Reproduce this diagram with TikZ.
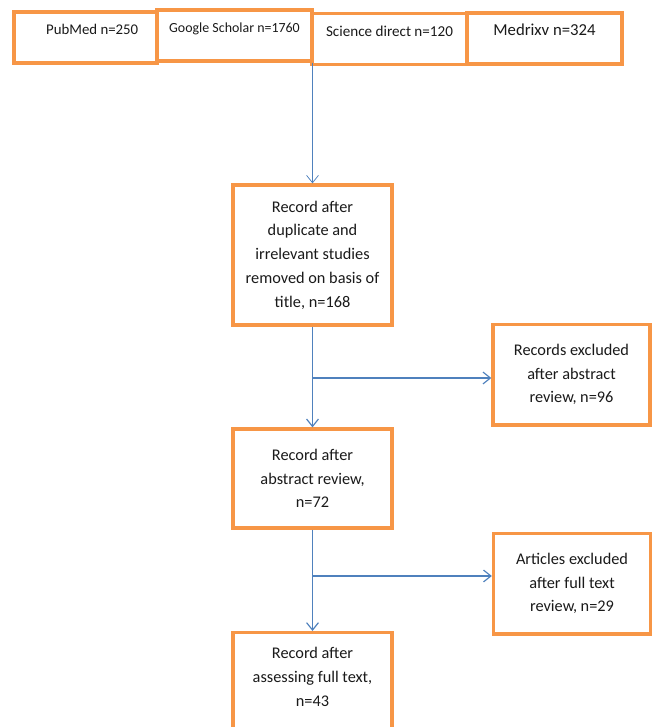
\documentclass[tikz,border=0pt]{standalone}
\usepackage{fontspec}
\setmainfont{Carlito}
\usetikzlibrary{arrows.meta}
\definecolor{ink}{HTML}{1A1A1A}
\definecolor{frame}{HTML}{F79646}
\definecolor{link}{HTML}{4F81BD}
\tikzset{
  every picture/.style={text=ink, font=\fontsize{11}{16}\selectfont},
  source/.style={draw=frame, fill=white, line width=2.2pt, inner sep=0pt, minimum height=34.4pt, text height=15.5pt, text depth=18.9pt},
  stage/.style={draw=frame, fill=white, line width=2.2pt, align=center, inner sep=0pt, minimum width=107.3pt},
  side/.style={stage, minimum width=106pt, minimum height=68pt},
  flow/.style={-{Straight Barb[length=5pt, width=8pt]}, draw=link, line width=0.8pt},
}
\begin{document}
\begin{tikzpicture}[x=0.675pt, y=-0.675pt]
\path[use as bounding box, clip] (0,0) rectangle (652,727);
% databases
\node[source, minimum width=96.5pt, font=\fontsize{10}{12}\selectfont] (pubmed) at (85.5,37.5) {\hspace*{9pt}PubMed n=250};
\node[source, minimum width=104.6pt, font=\fontsize{9.4}{11}\selectfont] (scholar) at (234.5,35.5) {Google Scholar n=1760};
\node[source, minimum width=104.6pt, font=\fontsize{10.2}{12}\selectfont] (science) at (389.5,39) {Science direct n=120};
\node[source, minimum width=104.6pt, font=\fontsize{11.3}{13}\selectfont] (medrixv) at (544.5,38.5) {Medrixv n=324};
% screening
\node[stage, minimum height=94.5pt] (dedup) at (312.5,255) {Record after\\duplicate and\\irrelevant studies\\removed on basis of\\title, n=168};
\node[side] (excl1) at (571.5,374.5) {Records excluded\\after abstract\\review, n=96};
\node[stage, minimum height=66.8pt] (abstract) at (312.5,478.5) {Record after\\abstract review,\\n=72};
\node[side] (excl2) at (572,583.5) {Articles excluded\\after full text\\review, n=29};
\node[stage, minimum height=81pt, anchor=north] (final) at (312.5,631) {};
\node[align=center] (finaltext) at (312.5,677) {Record after\\assessing full text,\\n=43};
% connectors
\draw[flow, line width=0.5pt] (dedup.north |- scholar.south) -- (dedup.north);
\draw[flow] (dedup) -- (abstract);
\coordinate (b1) at (312.5,378);
\draw[flow] (b1) -- (b1 -| excl1.west);
\draw[flow] (abstract) -- (final);
\coordinate (b2) at (312.5,576);
\draw[flow] (b2) -- (b2 -| excl2.west);
\end{tikzpicture}
\end{document}
